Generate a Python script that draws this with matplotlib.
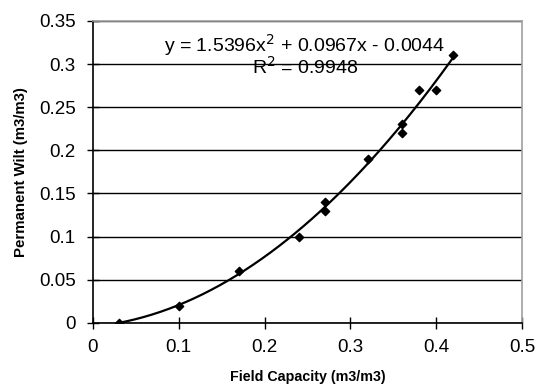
import numpy as np
import matplotlib
matplotlib.use("Agg")
import matplotlib.pyplot as plt

plt.rcParams['font.family'] = ['Liberation Sans', 'DejaVu Sans']

field_capacity = [0.03, 0.10, 0.17, 0.24, 0.27, 0.27, 0.32, 0.36, 0.36, 0.38, 0.40, 0.42]
permanent_wilt = [0.00, 0.02, 0.06, 0.10, 0.13, 0.14, 0.19, 0.22, 0.23, 0.27, 0.27, 0.31]
trend_coefs = [1.5396, 0.0967, -0.0044]
equation_text = "y = 1.5396x$^2$ + 0.0967x - 0.0044"
r2_text = "R$^2$ = 0.9948"
x_ticks = [0, 0.1, 0.2, 0.3, 0.4, 0.5]
y_ticks = [0, 0.05, 0.1, 0.15, 0.2, 0.25, 0.3, 0.35]
x_tick_labels = ["0", "0.1", "0.2", "0.3", "0.4", "0.5"]
y_tick_labels = ["0", "0.05", "0.1", "0.15", "0.2", "0.25", "0.3", "0.35"]

fig = plt.figure(figsize=(5.37, 3.88), dpi=100)
ax = fig.add_axes([0.173, 0.168, 0.799, 0.778])

xs = np.linspace(min(field_capacity), max(field_capacity), 200)
ax.plot(xs, np.polyval(trend_coefs, xs), color='black', lw=1.6, zorder=3)
ax.scatter(field_capacity, permanent_wilt, marker='D', s=18, color='black', zorder=4)

ax.set_xlim(0, 0.5)
ax.set_ylim(0, 0.35)
ax.set_xticks(x_ticks)
ax.set_xticklabels(x_tick_labels)
ax.set_yticks(y_ticks)
ax.set_yticklabels(y_tick_labels)
ax.grid(axis='y', color='black', lw=1.0)
ax.set_axisbelow(True)
for s in ['top', 'right']:
    ax.spines[s].set_color('#a0a0a0')
    ax.spines[s].set_linewidth(1.2)
for s in ['left', 'bottom']:
    ax.spines[s].set_color('black')
    ax.spines[s].set_linewidth(1.2)
ax.tick_params(direction='inout', length=8, width=1, labelsize=13.5, colors='black')
ax.tick_params(axis='x', pad=7.5)
ax.tick_params(axis='y', pad=8.5)

ax.set_xlabel("Field Capacity (m3/m3)", fontsize=10.3, fontweight='bold', labelpad=10)
ax.set_ylabel("Permanent Wilt (m3/m3)", fontsize=10.8, fontweight='bold', labelpad=8)

ax.text(0.494, 0.92, equation_text, transform=ax.transAxes, ha='center', va='center', fontsize=14)
ax.text(0.494, 0.847, r2_text, transform=ax.transAxes, ha='center', va='center', fontsize=14)

fig.savefig("out.png", dpi=100)
